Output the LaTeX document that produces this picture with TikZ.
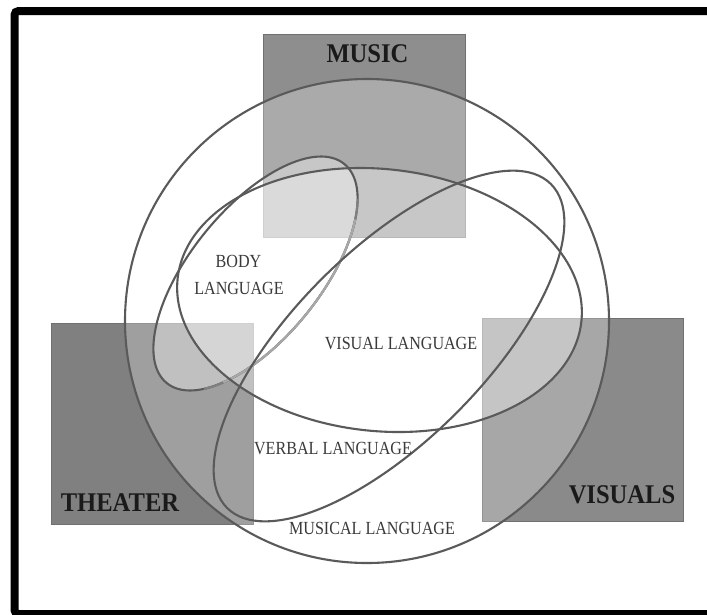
\documentclass[tikz,border=0pt]{standalone}
\usepackage{fontspec}
\setmainfont{Liberation Serif}
\usepackage{graphicx}
\definecolor{musicgray}{HTML}{8E8E8E}
\definecolor{theatergray}{HTML}{808080}
\definecolor{visualsgray}{HTML}{8A8A8A}
\definecolor{rectedge}{HTML}{707070}
\definecolor{curvegray}{HTML}{5A5A5A}
\definecolor{curvelight}{HTML}{A8A8A8}
\definecolor{curvemid}{HTML}{808080}
\definecolor{titleink}{HTML}{1A1A1A}
\definecolor{labelink}{HTML}{3A3A3A}
\newcommand{\narrowtitle}[1]{\scalebox{0.91}[1]{#1}}
\newcommand{\narrowlabel}[1]{\scalebox{0.87}[1]{#1}}
\tikzset{
  artbox/.style={draw=rectedge, line width=0.8pt},
  veil/.style={white, fill opacity=#1},
  outline/.style={draw=curvegray, line width=2.1pt},
  titletext/.style={inner sep=0pt, text=titleink, font=\fontsize{27}{27}\selectfont\bfseries},
  labeltext/.style={inner sep=0pt, text=labelink, font=\fontsize{18.5}{18.5}\selectfont},
}
\begin{document}
\begin{tikzpicture}[x=1pt,y=-1pt]
\useasboundingbox (0,0) rectangle (707,614);
\fill[white] (0,0) rectangle (707,614);
% frame (open on the right)
\draw[line width=8pt, rounded corners=4pt] (730,11) -- (14.5,11) -- (14.5,614) -- (730,614);
% rectangles
\fill[artbox, fill=musicgray] (263,34) rectangle (465,237);
\fill[artbox, fill=theatergray] (51,323) rectangle (253,524);
\fill[artbox, fill=visualsgray] (482,318) rectangle (683,521);
% translucent veils
\fill[veil=0.25] (367,321) circle [radius=242pt];
\begin{scope}[shift={(255.5,273.5)}, rotate=51]
  \fill[veil=0.35] (0,0) ellipse [x radius=141pt, y radius=65pt];
\end{scope}
\begin{scope}[shift={(379.5,300)}, rotate=-6]
  \fill[veil=0.35] (0,0) ellipse [x radius=203pt, y radius=131pt];
\end{scope}
% outlines
\draw[outline] (367,321) circle [radius=242pt];
\begin{scope}[shift={(255.5,273.5)}, rotate=51]
  \draw[outline] (0,0) ellipse [x radius=141pt, y radius=65pt];
  \draw[draw=curvemid, line width=2.1pt] (210:141pt and 65pt) arc[start angle=210, end angle=330, x radius=141pt, y radius=65pt];
  \draw[draw=curvelight, line width=2.1pt] (222:141pt and 65pt) arc[start angle=222, end angle=318, x radius=141pt, y radius=65pt];
\end{scope}
\begin{scope}[shift={(379.5,300)}, rotate=-6]
  \draw[outline] (0,0) ellipse [x radius=203pt, y radius=131pt];
\end{scope}
\begin{scope}[shift={(389,346)}, rotate=45]
  \draw[outline] (0,0) ellipse [x radius=229pt, y radius=95pt];
\end{scope}
% titles
\node[titletext] (music) at (367.5,54) {\narrowtitle{MUSIC}};
\node[titletext] (theater) at (120,502.5) {\narrowtitle{THEATER}};
\node[titletext] (visuals) at (622,494.5) {\narrowtitle{VISUALS}};
% labels
\node[labeltext] (body1) at (238.5,261.5) {\narrowlabel{BODY}};
\node[labeltext] (body2) at (239,288.5) {\narrowlabel{LANGUAGE}};
\node[labeltext] (visual) at (401,343.5) {\narrowlabel{VISUAL LANGUAGE}};
\node[labeltext] (verbal) at (333,449) {\narrowlabel{VERBAL LANGUAGE}};
\node[labeltext] (musical) at (372,528) {\narrowlabel{MUSICAL LANGUAGE}};
\end{tikzpicture}
\end{document}
